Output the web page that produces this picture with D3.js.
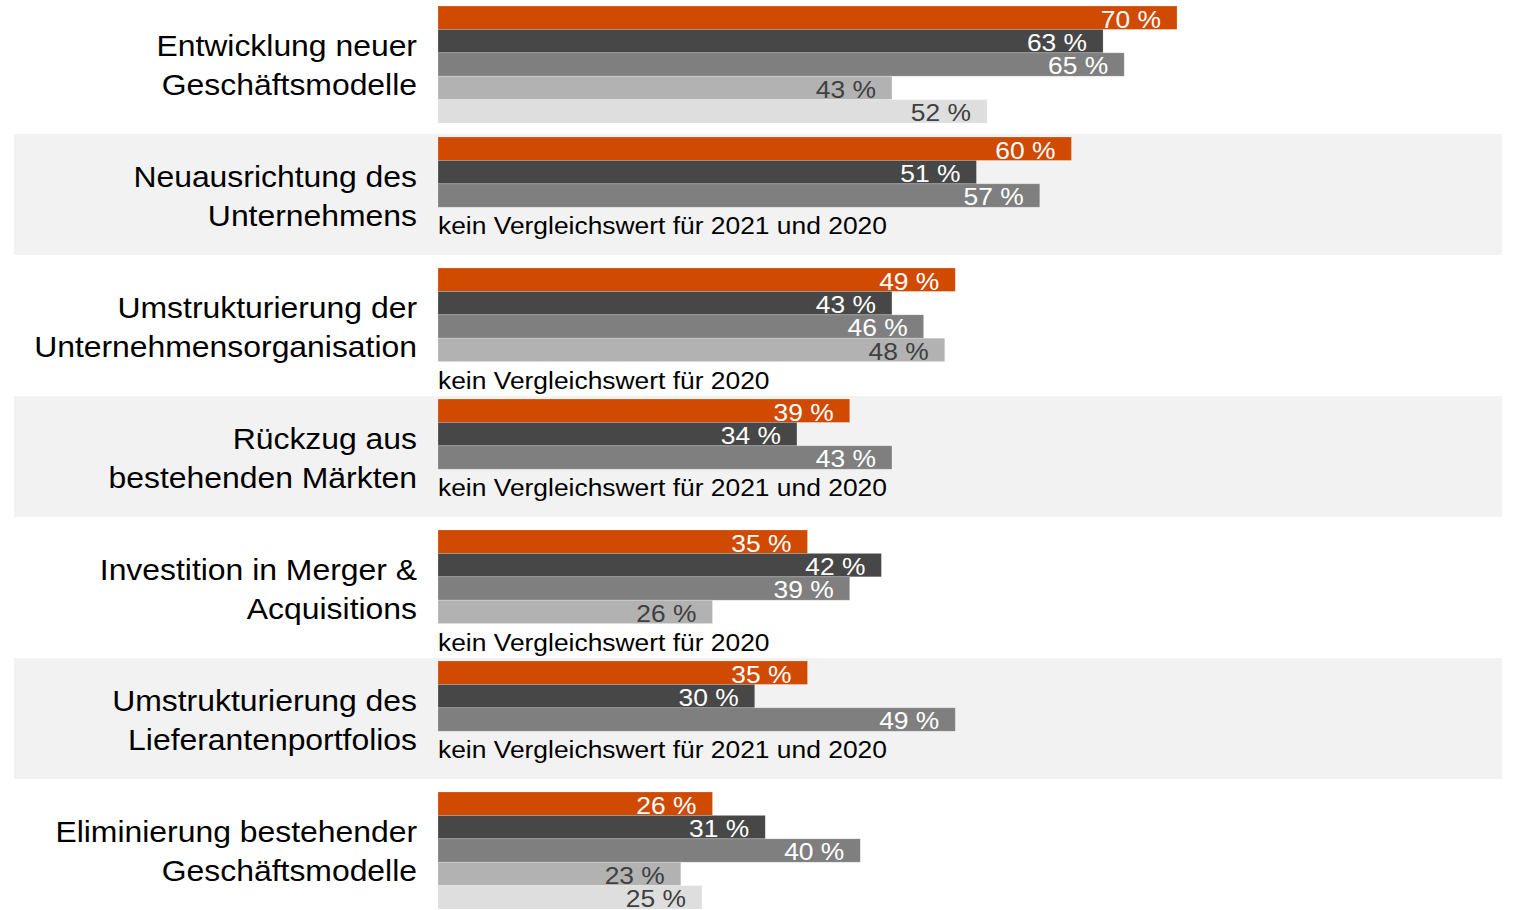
<!DOCTYPE html>
<html>
<head>
<meta charset="utf-8">
<script src="https://cdn.jsdelivr.net/npm/d3@7"></script>
<style>
  body { margin: 0; background: #fff; }
  text { font-family: "Liberation Sans", Arial, sans-serif; }
</style>
</head>
<body>
<div id="chart"></div>
<script>
// categories, two lines each
var categories = [
    ['Entwicklung neuer', 'Geschäftsmodelle'],
    ['Neuausrichtung des', 'Unternehmens'],
    ['Umstrukturierung der', 'Unternehmensorganisation'],
    ['Rückzug aus', 'bestehenden Märkten'],
    ['Investition in Merger &', 'Acquisitions'],
    ['Umstrukturierung des', 'Lieferantenportfolios'],
    ['Eliminierung bestehender', 'Geschäftsmodelle']
];
var years = ['2024', '2023', '2022', '2021', '2020'];
var v2024 = [70, 60, 49, 39, 35, 35, 26];
var v2023 = [63, 51, 43, 34, 42, 30, 31];
var v2022 = [65, 57, 46, 43, 39, 49, 40];
var v2021 = [43, null, 48, null, 26, null, 23];
var v2020 = [52, null, null, null, null, null, 25];
var notes = ['', 'kein Vergleichswert für 2021 und 2020', 'kein Vergleichswert für 2020',
    'kein Vergleichswert für 2021 und 2020', 'kein Vergleichswert für 2020',
    'kein Vergleichswert für 2021 und 2020', ''];

var seriesValues = [v2024, v2023, v2022, v2021, v2020];
var colors = ['#d04a02', '#474747', '#7f7f7f', '#b2b2b2', '#dedede'];
var textColors = ['#fff', '#fff', '#fff', '#404040', '#404040'];
var stretch = 1.1; // the original type is a bit wider than Arial

var width = 1514, height = 910;
var svg = d3.select('#chart').append('svg')
    .attr('width', width)
    .attr('height', height);

var x = d3.scaleLinear().domain([0, 100]).range([438, 438 + 1055.7]);
var y = d3.scaleBand().domain(d3.range(categories.length))
    .range([6, 6 + 131 * 7 - 14])
    .paddingInner(14 / 131).paddingOuter(0);
var ySub = d3.scaleBand().domain(d3.range(years.length))
    .range([0, y.bandwidth()]);

var groups = categories.map(function(c, i) {
    return {
        label: c,
        note: notes[i],
        bars: seriesValues.map(function(s, j) { return {year: years[j], value: s[i], idx: j}; })
            .filter(function(d) { return d.value != null; })
    };
});

function place(px, py) {
    return 'translate(' + px + ',' + py + ') scale(' + stretch + ',1)';
}

var g = svg.selectAll('g.group').data(groups).enter().append('g')
    .attr('class', 'group')
    .attr('transform', function(d, i) { return 'translate(0,' + y(i) + ')'; });

// alternating background
g.filter(function(d, i) { return i % 2 == 1; }).append('rect')
    .attr('x', 14)
    .attr('y', -3)
    .attr('width', 1502 - 14)
    .attr('height', y.bandwidth() + 4)
    .attr('fill', '#f2f2f2');

g.selectAll('rect.bar').data(function(d) { return d.bars; }).enter().append('rect')
    .attr('class', 'bar')
    .attr('x', x(0))
    .attr('y', function(d) { return ySub(d.idx); })
    .attr('width', function(d) { return x(d.value) - x(0); })
    .attr('height', ySub.bandwidth())
    .attr('fill', function(d) { return colors[d.idx]; })
    .attr('stroke', 'rgba(255,255,255,0.25)')
    .attr('stroke-width', 0.8);

g.selectAll('text.val').data(function(d) { return d.bars; }).enter().append('text')
    .attr('class', 'val')
    .attr('transform', function(d) { return place(x(d.value) - 16, ySub(d.idx) + 21.5); })
    .attr('text-anchor', 'end')
    .attr('font-size', 24)
    .attr('fill', function(d) { return textColors[d.idx]; })
    .text(function(d) { return d.value + ' %'; });

g.filter(function(d) { return d.note; }).append('text')
    .attr('transform', function(d) { return place(x(0), ySub(d.bars.length) + 27); })
    .attr('font-size', 24)
    .attr('fill', '#000')
    .text(function(d) { return d.note; });

var lab = g.append('text')
    .attr('transform', place(417, 0))
    .attr('text-anchor', 'end')
    .attr('font-size', 29)
    .attr('fill', '#000');
lab.selectAll('tspan').data(function(d) { return d.label; }).enter().append('tspan')
    .attr('x', 0)
    .attr('y', function(d, i) { return y.bandwidth() / 2 - 8 + i * 38.5; })
    .text(function(d) { return d; });
</script>
</body>
</html>
